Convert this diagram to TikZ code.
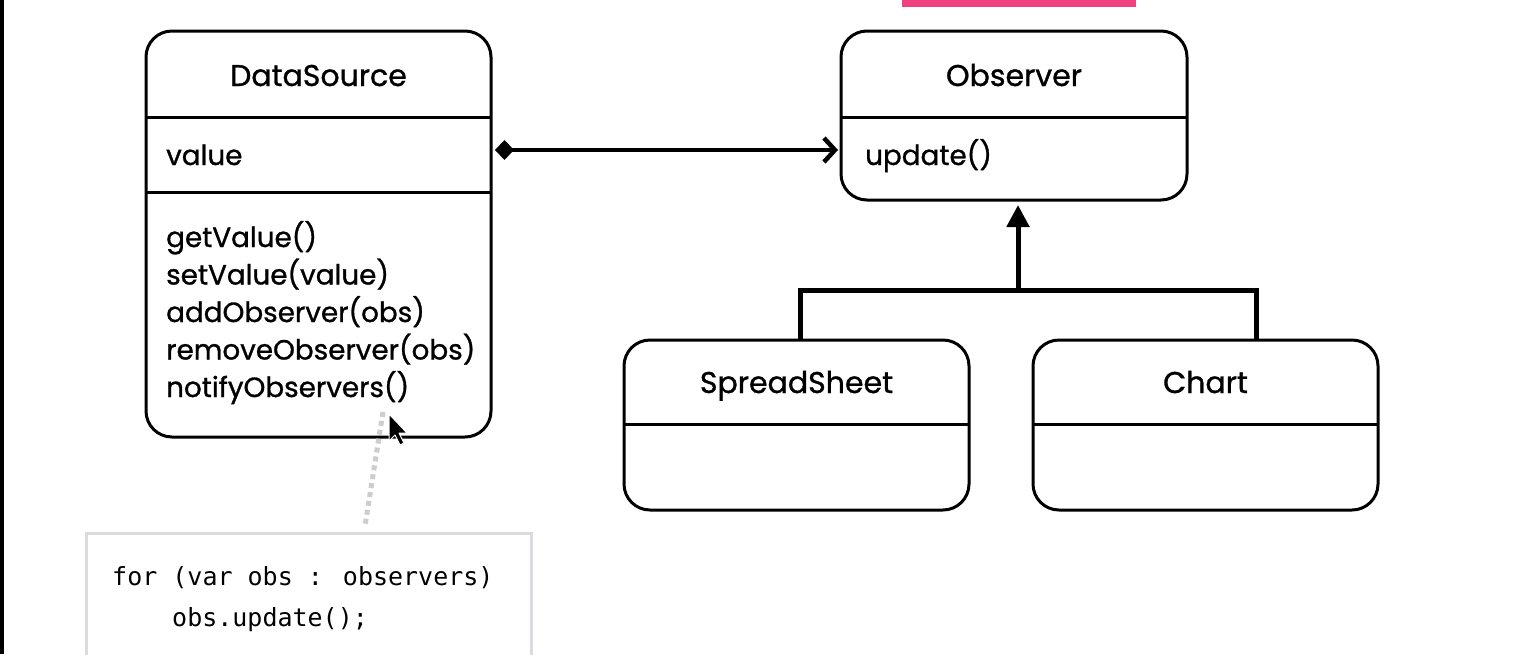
\documentclass[tikz,border=0pt]{standalone}
\usepackage{fontspec}
\setmainfont{Poppins}[FakeBold=1]
\newfontfamily\codefont{DejaVu Sans Mono}
\usetikzlibrary{arrows.meta}
\usetikzlibrary{positioning}
\definecolor{notegray}{RGB}{219,219,223}
\definecolor{linkgray}{RGB}{205,205,205}
\definecolor{tabpink}{RGB}{240,64,128}
\tikzset{
classbox/.style = {draw, line width=3pt, rounded corners=26pt,
                   inner sep=0pt, outer sep=0pt},
divider/.style = {line width=3pt},
classname/.style = {anchor=base, inner sep=0pt, font=\fontsize{30}{34}\selectfont},
member/.style = {anchor=base west, inner sep=0pt, font=\fontsize{27.8}{32}\selectfont},
assoc/.style = {line width=4.5pt,
                {Diamond[length=19pt,width=20pt]}-{Straight Barb[length=11pt,width=24pt]},
                shorten <=4pt, shorten >=3pt},
gen/.style = {line width=5pt, line join=miter},
notebox/.style = {draw=notegray, line width=3pt, fill=white,
                  anchor=north west, inner sep=0pt},
codeline/.style = {anchor=base west, inner sep=0pt,
                   font=\codefont\fontsize{25}{30}\selectfont},
notelink/.style = {draw=linkgray, line width=5pt, dash pattern=on 5pt off 4pt}
}

\begin{document}
\begin{tikzpicture}[x=1pt, y=-1pt]
        \useasboundingbox (0,0) rectangle (1520,654);
        \fill[white] (0,0) rectangle (1520,654);
        \fill[black] (0,0) rectangle (4,654);
        \fill[tabpink] (902,0) rectangle (1136,7);

        % DataSource
        \node[classbox, minimum width=345pt, minimum height=406pt] (ds) at (318.5,234) {};
        \node[classname] (dsname) at (318.5,86) {DataSource};
        \draw[divider] (ds.west |- 0,117) -- (ds.east |- 0,117);
        \draw[divider] (ds.west |- 0,192) -- (ds.east |- 0,192);
        \node[member] (dsvalue) at (166,165) {value};
        \foreach \m [count=\i from 0] in {getValue(), setValue(value),
                addObserver(obs), removeObserver(obs), notifyObservers()}
            \node[member] (dsop\i) at (166,{247+37.5*\i}) {\m};

        % Observer
        \node[classbox, minimum width=346pt, minimum height=169pt] (obs) at (1014,115.5) {};
        \node[classname] (obsname) at (1014,86) {Observer};
        \draw[divider] (obs.west |- 0,117) -- (obs.east |- 0,117);
        \node[member] (obsop) at (865,165) {update()};

        % concrete observers
        \node[classbox, minimum width=345pt, minimum height=170pt] (ss) at (796.5,425) {};
        \node[classname] (ssname) at (796.5,393) {SpreadSheet};
        \draw[divider] (ss.west |- 0,424) -- (ss.east |- 0,424);
        \node[classbox, minimum width=345pt, minimum height=170pt] (ch) at (1205.5,425) {};
        \node[classname] (chname) at (1205.5,393) {Chart};
        \draw[divider] (ch.west |- 0,424) -- (ch.east |- 0,424);

        % relations
        \draw[assoc] (ds.east |- 0,150) -- (obs.west |- 0,150);
        \coordinate (hub) at (1018,290);
        \draw[gen] ([xshift=3.5pt]ss.north) |- (hub) -| ([xshift=50.5pt]ch.north);
        \draw[gen, -{Triangle[length=22pt,width=22pt]}] (hub) -- ([yshift=-5pt]obs.south -| hub);

        % note
        \node[notebox, minimum width=445pt, minimum height=140pt] (note) at (85,532) {};
        \node[codeline] (code1) at (112,585) {for (var obs : observers)};
        \node[codeline] (code2) at (172,626) {obs.update();};
        \coordinate (pin) at (383,412);
        \coordinate (pinend) at (365,526);
        \draw[notelink] (pin) -- (pinend);

        % pointer
        \draw[fill=black, draw=white, line width=1pt, line join=round]
            (389,414) -- ++(0,27) -- ++(6,-6) -- ++(5,10) -- ++(4,-2)
            -- ++(-5,-10) -- ++(8,0) -- cycle;
\end{tikzpicture}
\end{document}
